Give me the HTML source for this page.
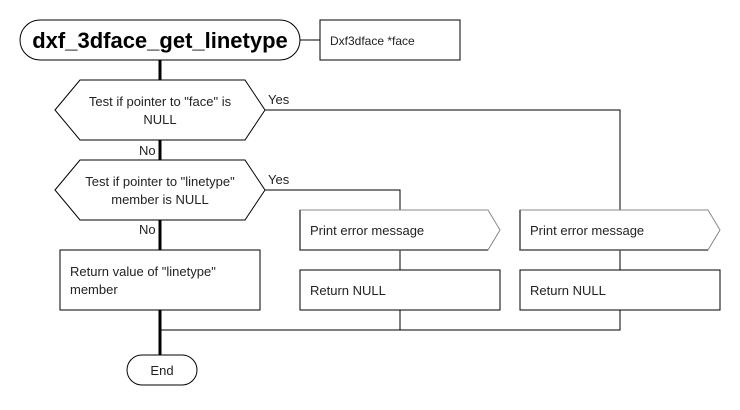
<!DOCTYPE html>
<html><head><style>body{margin:0;background:#fff}svg{display:block}</style></head><body>
<svg width="740" height="410" xmlns="http://www.w3.org/2000/svg" font-family="Liberation Sans, sans-serif" font-size="13" fill="#222">
<rect width="740" height="410" fill="#fff"/>
<g stroke="#000" fill="none">
<line x1="160" y1="60" x2="160" y2="355" stroke-width="3"/>
<line x1="300" y1="40" x2="320" y2="40"/>
<polyline points="265,110 620,110 620,210"/>
<polyline points="265,190 400,190 400,210"/>
<line x1="400" y1="250" x2="400" y2="270"/>
<line x1="620" y1="250" x2="620" y2="270"/>
<polyline points="160,330 400,330 400,310"/>
<polyline points="400,330 620,330 620,310"/>
</g>
<g stroke="#000" fill="#fff">
<rect x="20" y="20" width="280" height="40" rx="20"/>
<rect x="320" y="20" width="140" height="40"/>
<polygon points="55,110 80,80 245,80 265,110 245,140 80,140"/>
<polygon points="55,190 80,160 245,160 265,190 245,220 80,220"/>
<rect x="60" y="250" width="200" height="60"/>
<rect x="300" y="270" width="200" height="40"/>
<rect x="520" y="270" width="200" height="40"/>
<rect x="127" y="355" width="70" height="30" rx="15"/>
</g>
<g stroke="#888" fill="#fff">
<polygon points="300,210 488,210 500,230 488,250 300,250"/>
<polygon points="520,210 708,210 720,230 708,250 520,250"/>
</g>
<g stroke="#555" stroke-width="1.6" fill="none">
<polyline points="300,210 300,250 488,250"/>
<polyline points="520,210 520,250 708,250"/>
</g>
<text x="160" y="48" text-anchor="middle" font-size="22" font-weight="bold" fill="#000">dxf_3dface_get_linetype</text>
<text x="330" y="45" font-size="12">Dxf3dface *face</text>
<text x="160" y="106" text-anchor="middle">Test if pointer to "face" is</text>
<text x="160" y="124" text-anchor="middle">NULL</text>
<text x="160" y="186" text-anchor="middle">Test if pointer to "linetype"</text>
<text x="160" y="204" text-anchor="middle">member is NULL</text>
<text x="268" y="104">Yes</text>
<text x="268" y="184">Yes</text>
<text x="139" y="155">No</text>
<text x="139" y="234">No</text>
<text x="70" y="276">Return value of "linetype"</text>
<text x="70" y="294">member</text>
<text x="310" y="235">Print error message</text>
<text x="530" y="235">Print error message</text>
<text x="310" y="295">Return NULL</text>
<text x="530" y="295">Return NULL</text>
<text x="162" y="375" text-anchor="middle">End</text>
</svg>
</body></html>
